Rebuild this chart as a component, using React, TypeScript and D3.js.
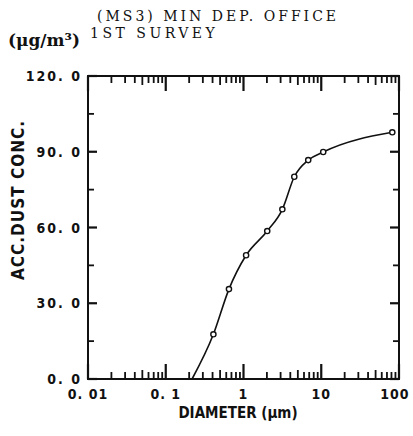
import React from "react";
import * as d3 from "d3";

// Cumulative dust concentration vs. particle diameter
const diameters = [0.41, 0.65, 1.08, 2.02, 3.16, 4.5, 6.8, 10.6, 82];
const accConc = [17.7, 35.6, 49.0, 58.6, 67.2, 80.1, 86.7, 89.9, 97.7];
// where the fitted curve leaves the zero line
const curveStart = { d: 0.218, c: 0 };

const xTickValues = [0.01, 0.1, 1, 10, 100];
const xTickLabels = ["0. 01", "0. 1", "1", "10", "100"];
const yTickValues = [0, 30, 60, 90, 120];
const yTickLabels = ["0. 0", "30. 0", "60. 0", "90. 0", "120. 0"];
const yMinorValues = [15, 45, 75, 105];

const W = 413;
const H = 436;
const left = 88;
const right = 399;
const top = 76;
const bottom = 379;

const INK = "#111";

export default function App() {
  const x = d3.scaleLog().domain([0.01, 100]).range([left, right]);
  const y = d3.scaleLinear().domain([0, 120]).range([bottom, top]);

  const pts: [number, number][] = [
    [x(curveStart.d), y(curveStart.c)],
    ...diameters.map((d, i) => [x(d), y(accConc[i])] as [number, number]),
  ];
  const curve = d3.line().curve(d3.curveMonotoneX)(pts) || "";

  // log minor ticks: 2..9 within each decade
  const minorX: { v: number; len: number }[] = [];
  for (let e = -2; e < 2; e++) {
    for (let k = 2; k <= 9; k++) {
      minorX.push({ v: k * Math.pow(10, e), len: k === 5 ? 9 : 7 });
    }
  }

  const tickFont = "'DejaVu Sans Condensed', 'DejaVu Sans', sans-serif";
  const serif = "'DejaVu Serif', 'Liberation Serif', serif";

  // tick marks as thin filled rects, pointing inward on all four sides
  const ticks: React.ReactNode[] = [];
  minorX.forEach((m, i) => {
    const px = x(m.v);
    ticks.push(<rect key={"mb" + i} x={px - 0.9} y={bottom - m.len} width={1.8} height={m.len} fill={INK} />);
    ticks.push(<rect key={"mt" + i} x={px - 0.9} y={top} width={1.8} height={m.len} fill={INK} />);
  });
  xTickValues.forEach((v, i) => {
    const px = x(v);
    ticks.push(<rect key={"Mb" + i} x={px - 1.1} y={bottom - 15} width={2.2} height={15} fill={INK} />);
    ticks.push(<rect key={"Mt" + i} x={px - 1.1} y={top} width={2.2} height={15} fill={INK} />);
  });
  yTickValues.forEach((v, i) => {
    const py = y(v);
    ticks.push(<rect key={"Ml" + i} x={left} y={py - 1.1} width={9} height={2.2} fill={INK} />);
    ticks.push(<rect key={"Mr" + i} x={right - 9} y={py - 1.1} width={9} height={2.2} fill={INK} />);
  });
  yMinorValues.forEach((v, i) => {
    const py = y(v);
    ticks.push(<rect key={"ml" + i} x={left} y={py - 0.9} width={6} height={1.8} fill={INK} />);
    ticks.push(<rect key={"mr" + i} x={right - 6} y={py - 0.9} width={6} height={1.8} fill={INK} />);
  });

  return (
    <svg width={W} height={H} style={{ position: "absolute", left: 0, top: 0, background: "#fff" }}>
      {/* titles */}
      <text x={97} y={21} fontFamily={serif} fontSize={14} letterSpacing={3} fill={INK}>
        (MS3)  MIN DEP. OFFICE
      </text>
      <text x={8} y={46} fontFamily={serif} fontSize={17} fontWeight="bold" fill={INK}>
        (μg/m³)
      </text>
      <text x={90} y={38} fontFamily={serif} fontSize={14} letterSpacing={3.5} fill={INK}>
        1ST SURVEY
      </text>

      {/* frame and ticks */}
      <rect x={left} y={top} width={right - left} height={bottom - top} fill="none" stroke={INK} strokeWidth={2} />
      <g>{ticks}</g>

      {/* tick labels */}
      {xTickValues.map((v, i) => (
        <text
          key={"xl" + i}
          x={x(v) - (i === xTickValues.length - 1 ? 4 : 0)}
          y={399}
          textAnchor="middle"
          fontFamily={tickFont}
          fontWeight="bold"
          fontSize={14}
          letterSpacing={1}
          fill={INK}
        >
          {xTickLabels[i]}
        </text>
      ))}
      {yTickValues.map((v, i) => (
        <text
          key={"yl" + i}
          x={82}
          y={y(v) + 5}
          textAnchor="end"
          fontFamily={tickFont}
          fontWeight="bold"
          fontSize={14}
          letterSpacing={2}
          fill={INK}
        >
          {yTickLabels[i]}
        </text>
      ))}

      {/* axis titles */}
      <text x={238} y={418} textAnchor="middle" fontFamily={tickFont} fontWeight="bold" fontSize={15} fill={INK}>
        DIAMETER (μm)
      </text>
      <text
        transform="translate(24, 200) rotate(-90)"
        textAnchor="middle"
        fontFamily={tickFont}
        fontWeight="bold"
        fontSize={17}
        letterSpacing={1}
        fill={INK}
      >
        ACC.DUST CONC.
      </text>

      {/* curve and markers */}
      <path d={curve} fill="none" stroke={INK} strokeWidth={1.6} />
      {diameters.map((d, i) => (
        <circle key={"p" + i} cx={x(d)} cy={y(accConc[i])} r={2.6} fill="#fff" stroke={INK} strokeWidth={1.4} />
      ))}
    </svg>
  );
}
